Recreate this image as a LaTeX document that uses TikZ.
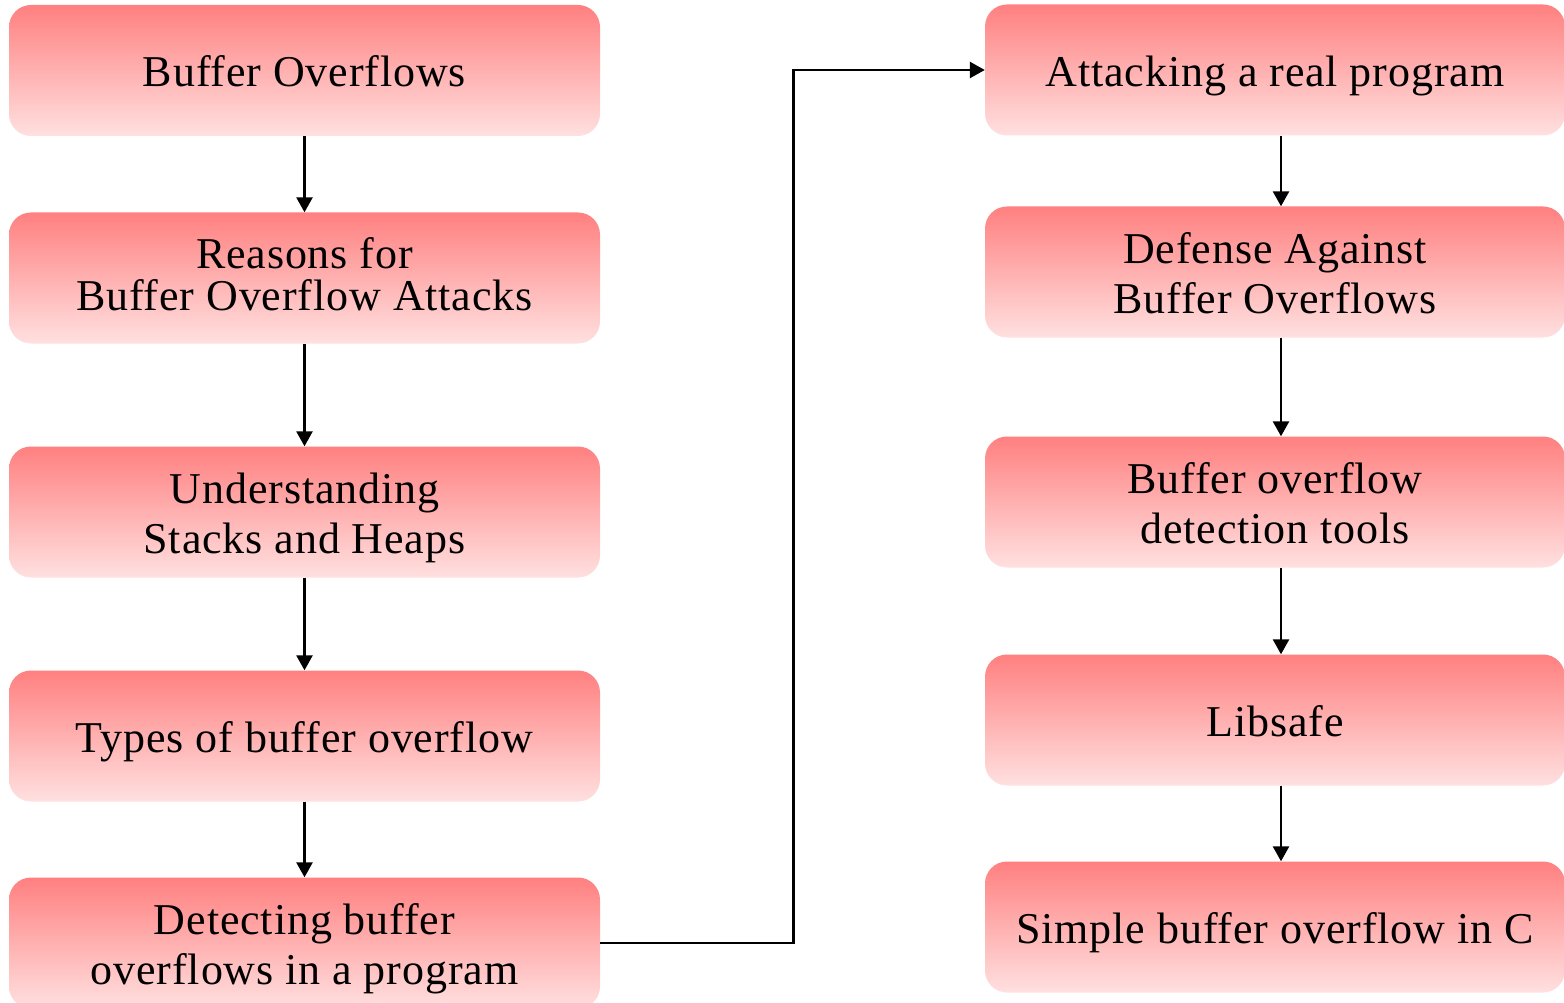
\documentclass[tikz,border=0pt]{standalone}
\usepackage{fontspec}
\setmainfont{Liberation Serif}[LetterSpace=2]
\usetikzlibrary{arrows.meta}
\definecolor{boxtop}{RGB}{255,128,128}
\definecolor{boxbottom}{RGB}{255,224,224}
\tikzset{
  topic/.style={rounded corners=22pt, top color=boxtop, bottom color=boxbottom,
    draw=none, align=center, inner sep=0pt, minimum height=131pt,
    font=\fontsize{44}{50}\selectfont, text height=45pt, text depth=12pt},
  twolines/.style={text height=95pt},
  leftbox/.style={topic, minimum width=591pt},
  rightbox/.style={topic, minimum width=580pt},
  flow/.style={line width=2.6pt, -{Triangle[length=15pt,width=16pt]}}
}
\begin{document}
\begin{tikzpicture}[x=1pt,y=-1pt]
  \useasboundingbox (0,0) rectangle (1564,1003);
  \clip (0,0) rectangle (1564,1003);
  \fill[white] (0,0) rectangle (1564,1003);

  % left column
  \node[leftbox] (L1) at (304.5,70.5) {Buffer Overflows};
  \node[leftbox, text height=76pt] (L2) at (304.5,278) {Reasons for\\[-8pt]Buffer Overflow Attacks};
  \node[leftbox, twolines] (L3) at (304.5,512) {Understanding\\Stacks and Heaps};
  \node[leftbox] (L4) at (304.5,736) {Types of buffer overflow};
  \node[leftbox, twolines] (L5) at (304.5,943) {Detecting buffer\\overflows in a program};

  % right column
  \node[rightbox] (R1) at (1275,70) {Attacking a real program};
  \node[rightbox, twolines] (R2) at (1275,272) {Defense Against\\Buffer Overflows};
  \node[rightbox, twolines] (R3) at (1275,502) {Buffer overflow\\detection tools};
  \node[rightbox] (R4) at (1275,720) {Libsafe};
  \node[rightbox] (R5) at (1275,927) {Simple buffer overflow in C};

  % connectors
  \draw[flow] (L1) -- (L2);
  \draw[flow] (L2) -- (L3);
  \draw[flow] (L3) -- (L4);
  \draw[flow] (L4) -- (L5);
  \draw[flow] (L5.east) -- ++(193,0) |- (R1.west);
  \draw[flow] ([xshift=6pt]R1.south) -- ([xshift=6pt]R2.north);
  \draw[flow] ([xshift=6pt]R2.south) -- ([xshift=6pt]R3.north);
  \draw[flow] ([xshift=6pt]R3.south) -- ([xshift=6pt]R4.north);
  \draw[flow] ([xshift=6pt]R4.south) -- ([xshift=6pt]R5.north);
\end{tikzpicture}
\end{document}
